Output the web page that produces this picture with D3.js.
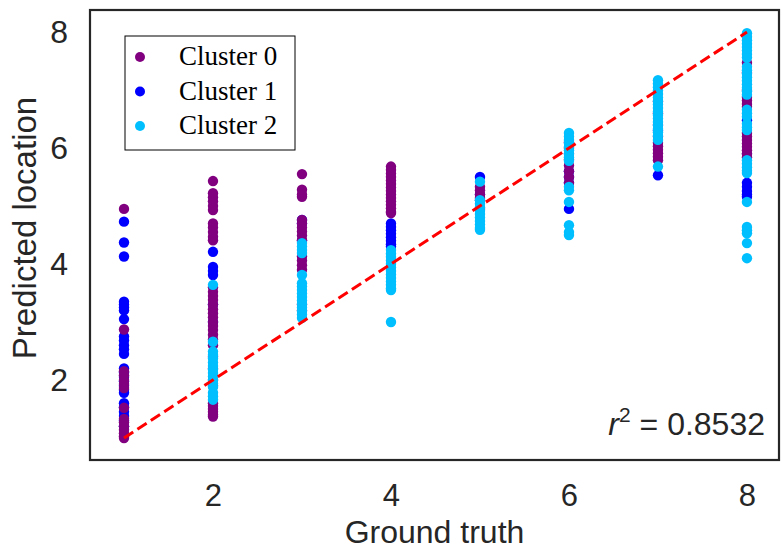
<!DOCTYPE html>
<html>
<head>
<meta charset="utf-8">
<script src="https://cdn.jsdelivr.net/npm/d3@7"></script>
<style>
  body { margin: 0; background: #fff; }
  svg { display: block; }
  .axis text { font-family: "Liberation Sans", Arial, sans-serif; fill: #262626; }
</style>
</head>
<body>
<div id="chart"></div>
<script>
// ground truth positions
var groundTruth = [1, 2, 3, 4, 5, 6, 7, 8];

// predicted values per ground truth position, one list per cluster
var cluster0 = {
  1: [4.95, 2.87, 2.15, 2.08, 2.0, 1.93, 1.86, 1.52, 1.33, 1.27, 1.2, 1.14, 1.08, 1.03, 1.0],
  2: [5.43, 5.22, 5.15, 5.08, 5.0, 4.93, 4.7, 4.63, 4.55, 4.47, 4.41, 3.6, 3.52, 3.45, 3.38, 3.3, 3.22, 3.15,
      3.08, 3.0, 2.93, 2.86, 2.78, 2.7, 2.6, 2.4, 2.2, 2.0, 1.9, 1.6, 1.55, 1.5, 1.45, 1.4, 1.37],
  3: [5.55, 5.28, 5.2, 5.16, 4.76, 4.7, 4.63, 4.56, 4.49, 4.41, 4.13, 4.06, 3.98, 3.9, 3.3, 3.2],
  4: [5.68, 5.62, 5.56, 5.5, 5.44, 5.38, 5.32, 5.26, 5.2, 5.14, 5.08, 5.02, 4.96, 4.9, 4.88],
  5: [5.33, 5.27, 5.2, 5.14, 5.1, 4.95],
  6: [6.1, 6.0, 5.9, 5.8, 5.7, 5.6, 5.5, 5.4],
  7: [6.8, 6.6, 6.4, 6.2, 6.09, 6.03, 5.97, 5.91, 5.85, 5.79],
  8: [7.47, 7.3, 7.0, 6.88, 6.82, 6.76, 6.71, 6.26, 6.2, 6.14, 6.08, 6.02, 5.96, 5.9, 5.84]
};

var cluster1 = {
  1: [4.73, 4.37, 4.13, 3.35, 3.3, 3.25, 3.2, 3.05, 2.75, 2.68, 2.6, 2.53, 2.45, 2.2, 2.13, 2.05, 1.98,
      1.9, 1.83, 1.78, 1.6, 1.53, 1.45, 1.38, 1.3, 1.2],
  2: [4.21, 3.95, 3.88, 3.81, 3.3, 3.0],
  3: [4.76, 4.7, 4.4],
  4: [4.7, 4.64, 4.58, 4.52, 4.46, 4.4, 4.34, 4.3],
  5: [5.5, 5.2],
  6: [5.6, 5.5, 5.4, 4.95],
  7: [6.3, 5.53],
  8: [6.48, 5.9, 5.4, 5.33, 5.26, 5.2, 5.16]
};

var cluster2 = {
  1: [],
  2: [3.64, 2.66, 2.49, 2.43, 2.37, 2.3, 2.24, 2.18, 2.12, 2.06, 2.0, 1.94, 1.88, 1.78, 1.72, 1.66],
  3: [4.36, 4.3, 4.24, 4.19, 3.81, 3.67, 3.61, 3.55, 3.49, 3.43, 3.37, 3.31, 3.25, 3.19, 3.13, 3.07],
  4: [4.24, 4.18, 4.12, 4.06, 4.0, 3.94, 3.88, 3.82, 3.76, 3.7, 3.64, 3.58, 3.55, 3.0],
  5: [5.42, 5.1, 5.04, 4.98, 4.92, 4.86, 4.8, 4.74, 4.68, 4.62, 4.59],
  6: [6.26, 6.2, 6.14, 6.08, 6.02, 5.96, 5.9, 5.84, 5.78, 5.33, 5.27, 5.07, 4.67, 4.55, 4.5],
  7: [7.17, 7.11, 7.05, 6.99, 6.93, 6.87, 6.81, 6.75, 6.69, 6.63, 6.57, 6.51, 6.45, 6.39, 6.33,
      6.27, 6.21, 6.14, 5.68],
  8: [7.98, 7.92, 7.86, 7.8, 7.74, 7.68, 7.62, 7.56, 7.4, 7.34, 7.28, 7.22, 7.16, 7.1, 7.04, 6.98,
      6.92, 6.66, 6.6, 6.54, 6.42, 6.36, 6.31, 5.79, 5.73, 5.67, 5.61, 5.57, 5.07, 4.64, 4.58, 4.53,
      4.36, 4.1]
};

var clusterNames = ['Cluster 0', 'Cluster 1', 'Cluster 2'];
var clusterColors = ['#800080', '#0000ff', '#00bfff'];
var xTicks = [2, 4, 6, 8];
var yTicks = [2, 4, 6, 8];
var r2Label = '0.8532';

(function init() {

  draw('chart');
})();

function flatten(cluster, index) {

  var result = [];

  groundTruth.forEach(function (gt) {

    (cluster[gt] || []).forEach(function (p) {

      result.push({ truth: gt, pred: p, cluster: index });
    });
  });

  return result;
}

function draw(id) {

  var margin = { top: 10, right: 2, bottom: 92, left: 90 };

  var width = 781 - margin.left - margin.right;
  var height = 552 - margin.top - margin.bottom;

  var x = d3.scaleLinear()
      .domain([0.618, 8.36])
      .range([0, width]);

  var y = d3.scaleLinear()
      .domain([0.62, 8.38])
      .range([height, 0]);

  var svg = d3.select('#' + id)
    .append('svg')
      .attr('width', 781)
      .attr('height', 552);

  var plot = svg.append('g')
      .attr('transform', 'translate(' + margin.left + ',' + margin.top + ')');

  // points: cluster 1 first, then 0, then 2 on top
  var points = flatten(cluster1, 1)
    .concat(flatten(cluster0, 0))
    .concat(flatten(cluster2, 2));

  plot.append('g')
    .selectAll('circle')
      .data(points)
      .enter()
    .append('circle')
      .attr('cx', function (d) { return x(d.truth); })
      .attr('cy', function (d) { return y(d.pred); })
      .attr('r', 5.2)
      .attr('fill', function (d) { return clusterColors[d.cluster]; });

  // identity line
  var ext = d3.extent(groundTruth);

  plot.append('line')
      .attr('x1', x(ext[0]))
      .attr('y1', y(ext[0]))
      .attr('x2', x(ext[1]))
      .attr('y2', y(ext[1]))
      .attr('stroke', '#ff0000')
      .attr('stroke-width', 3)
      .attr('stroke-dasharray', '11,5');

  // frame
  plot.append('rect')
      .attr('width', width)
      .attr('height', height)
      .attr('fill', 'none')
      .attr('stroke', '#262626')
      .attr('stroke-width', 2.2);

  var xAxis = d3.axisBottom(x)
      .tickValues(xTicks)
      .tickSize(0)
      .tickPadding(24)
      .tickFormat(d3.format('d'));

  var yAxis = d3.axisLeft(y)
      .tickValues(yTicks)
      .tickSize(0)
      .tickPadding(22)
      .tickFormat(d3.format('d'));

  plot.append('g')
      .attr('class', 'axis')
      .attr('transform', 'translate(0,' + height + ')')
      .call(xAxis)
      .call(function (g) { g.select('.domain').remove(); })
      .selectAll('text')
        .attr('font-size', 31);

  plot.append('g')
      .attr('class', 'axis')
      .call(yAxis)
      .call(function (g) { g.select('.domain').remove(); })
      .selectAll('text')
        .attr('font-size', 32);

  // axis titles
  svg.append('text')
      .attr('x', margin.left + width / 2)
      .attr('y', 543)
      .attr('text-anchor', 'middle')
      .attr('font-family', '"Liberation Sans", Arial, sans-serif')
      .attr('font-size', 32)
      .attr('fill', '#262626')
      .text('Ground truth');

  svg.append('text')
      .attr('transform', 'translate(36,228) rotate(-90)')
      .attr('text-anchor', 'middle')
      .attr('font-family', '"Liberation Sans", Arial, sans-serif')
      .attr('font-size', 33)
      .attr('fill', '#262626')
      .text('Predicted location');

  // r squared annotation
  var r2 = svg.append('text')
      .attr('x', 765)
      .attr('y', 435)
      .attr('text-anchor', 'end')
      .attr('font-family', '"Liberation Sans", Arial, sans-serif')
      .attr('font-size', 32)
      .attr('fill', '#262626');

  r2.append('tspan').attr('font-style', 'italic').text('r');
  r2.append('tspan').attr('font-size', 21).attr('dy', -13).text('2');
  r2.append('tspan').attr('dy', 13).text(' = ' + r2Label);

  // legend
  var legend = svg.append('g')
      .attr('transform', 'translate(125,36)');

  legend.append('rect')
      .attr('width', 170)
      .attr('height', 114)
      .attr('fill', '#fff')
      .attr('stroke', '#000')
      .attr('stroke-width', 1);

  var item = legend.selectAll('.item')
      .data(clusterNames)
      .enter()
    .append('g')
      .attr('class', 'item')
      .attr('transform', function (d, i) { return 'translate(0,' + (21 + i * 34.5) + ')'; });

  item.append('circle')
      .attr('cx', 15)
      .attr('cy', 0)
      .attr('r', 5)
      .attr('fill', function (d, i) { return clusterColors[i]; });

  item.append('text')
      .attr('x', 54)
      .attr('y', 8)
      .attr('font-family', '"Liberation Serif", "Times New Roman", serif')
      .attr('font-size', 27)
      .attr('fill', '#000')
      .text(function (d) { return d; });
}
</script>
</body>
</html>
